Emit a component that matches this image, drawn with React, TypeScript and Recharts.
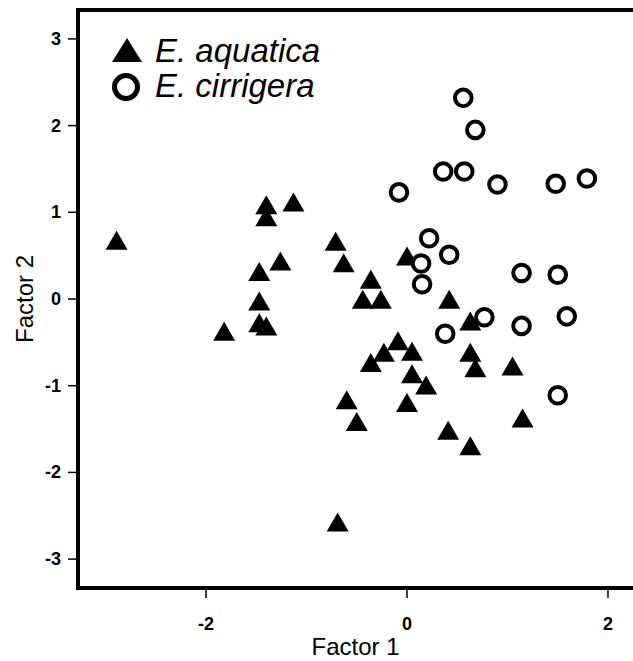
import { ScatterChart, Scatter, XAxis, YAxis, ReferenceLine, Legend } from 'recharts'

// E. aquatica (triangles)
const aquaticaX = [
  -2.89, -1.82, -1.4, -1.4, -1.13, -1.47, -1.26, -1.47, -1.47, -1.4, -0.71, -0.63,
  -0.36, -0.44, -0.26, -0.36, -0.23, -0.09, 0.05, 0.05, 0.19, 0.0, -0.6, -0.5,
  -0.69, 0.0, 0.42, 0.63, 0.63, 0.68, 1.05, 0.41, 0.63, 1.15,
]
const aquaticaY = [
  0.66, -0.39, 1.07, 0.93, 1.1, 0.3, 0.42, -0.04, -0.29, -0.33, 0.65, 0.4,
  0.21, -0.02, -0.02, -0.75, -0.63, -0.5, -0.62, -0.88, -1.01, -1.21, -1.18, -1.43,
  -2.59, 0.48, -0.02, -0.27, -0.63, -0.81, -0.79, -1.53, -1.71, -1.39,
]

// E. cirrigera (open circles)
const cirrigeraX = [
  0.56, 0.68, 0.36, 0.57, 0.9, -0.08, 1.48, 1.79, 0.22, 0.42, 0.14, 0.15,
  1.14, 1.5, 1.59, 0.77, 1.14, 0.38, 1.5,
]
const cirrigeraY = [
  2.32, 1.95, 1.47, 1.47, 1.32, 1.23, 1.33, 1.39, 0.7, 0.51, 0.41, 0.17,
  0.3, 0.28, -0.2, -0.21, -0.31, -0.4, -1.11,
]

const xTicks = [-2, 0, 2]
const yTicks = [-3, -2, -1, 0, 1, 2, 3]

const X_DOMAIN: [number, number] = [-3.274, 2.249]
const Y_DOMAIN: [number, number] = [-3.333, 3.333]

const aquatica = aquaticaX.map((x, i) => ({ x, y: aquaticaY[i] }))
const cirrigera = cirrigeraX.map((x, i) => ({ x, y: cirrigeraY[i] }))

const tickFont = '"Liberation Sans Narrow", "Liberation Sans", Arial, sans-serif'
const titleFont = '"Liberation Sans", Arial, sans-serif'

// bottom axis ticks: text hangs below the tick mark
function XTick(props: any) {
  const { x, y, payload } = props
  return (
    <text x={x} y={y + 14} textAnchor="middle" fill="#000" fontSize={18} fontWeight={700} fontFamily={tickFont}>
      {payload.value}
    </text>
  )
}

function YTick(props: any) {
  const { x, y, payload } = props
  return (
    <text x={x} y={y + 6} textAnchor="end" fill="#000" fontSize={18} fontWeight={700} fontFamily={tickFont}>
      {payload.value}
    </text>
  )
}

function Triangle(props: any) {
  const { cx, cy } = props
  if (cx == null || cy == null) return null
  return (
    <polygon
      points={`${cx},${cy - 11} ${cx - 11},${cy + 8} ${cx + 11},${cy + 8}`}
      fill="#000"
    />
  )
}

function Ring(props: any) {
  const { cx, cy } = props
  if (cx == null || cy == null) return null
  return <circle cx={cx} cy={cy} r={8.3} fill="#fff" stroke="#000" strokeWidth={4} />
}

function SpeciesLegend() {
  const textStyle = {
    fontFamily: titleFont,
    fontStyle: 'italic' as const,
    fontSize: 33,
    fill: '#000',
  }
  return (
    <svg width={280} height={74} style={{ overflow: 'visible' }}>
      <polygon points="22,0 7,24 37,24" fill="#000" />
      <text x={50} y={24} style={textStyle}>E. aquatica</text>
      <circle cx={21} cy={49} r={11.5} fill="#fff" stroke="#000" strokeWidth={5} />
      <text x={50} y={59} style={textStyle}>E. cirrigera</text>
    </svg>
  )
}

export default function App() {
  return (
    <div style={{ position: 'absolute', left: 0, top: 0, width: 633, height: 661, background: '#fff' }}>
      <ScatterChart width={633} height={661} margin={{ top: 10, right: 0, bottom: 0, left: 0 }}>
        <XAxis
          type="number"
          dataKey="x"
          domain={X_DOMAIN}
          ticks={xTicks}
          allowDataOverflow
          height={73}
          tick={<XTick />}
          tickSize={10}
          tickMargin={18}
          tickLine={{ stroke: '#000', strokeWidth: 1.5 }}
          axisLine={{ stroke: '#000', strokeWidth: 4, strokeLinecap: 'square' }}
          label={{
            value: 'Factor 1',
            position: 'insideBottom',
            offset: 6,
            style: { fill: '#000', fontSize: 24, fontFamily: titleFont },
          }}
        />
        <YAxis
          type="number"
          dataKey="y"
          domain={Y_DOMAIN}
          ticks={yTicks}
          allowDataOverflow
          width={78}
          tick={<YTick />}
          tickSize={10}
          tickMargin={7}
          tickLine={{ stroke: '#000', strokeWidth: 1.5 }}
          axisLine={{ stroke: '#000', strokeWidth: 4, strokeLinecap: 'square' }}
          label={{
            value: 'Factor 2',
            angle: -90,
            position: 'insideLeft',
            offset: 24,
            style: { fill: '#000', fontSize: 24, fontFamily: titleFont, textAnchor: 'middle' },
          }}
        />
        <ReferenceLine y={Y_DOMAIN[1]} stroke="#000" strokeWidth={4} />
        <Legend
          layout="vertical"
          align="center"
          verticalAlign="middle"
          content={() => <SpeciesLegend />}
          wrapperStyle={{ position: 'absolute', left: 105, top: 38, width: 280, height: 74 }}
        />
        <Scatter name="E. aquatica" data={aquatica} shape={Triangle} isAnimationActive={false} />
        <Scatter name="E. cirrigera" data={cirrigera} shape={Ring} isAnimationActive={false} />
      </ScatterChart>
    </div>
  )
}
